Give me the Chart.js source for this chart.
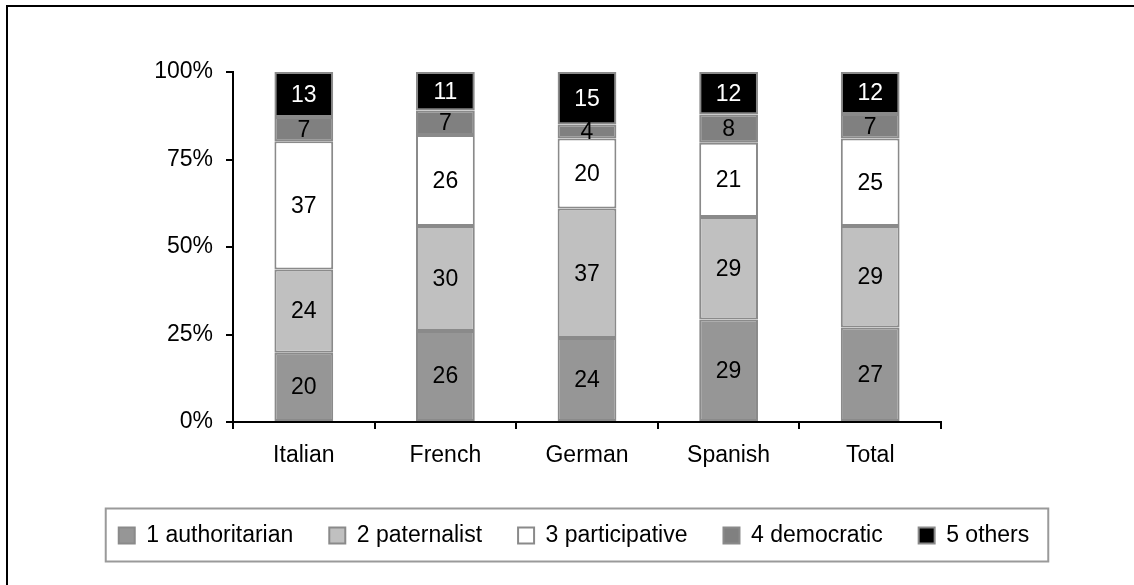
<!DOCTYPE html>
<html>
<head>
<meta charset="utf-8">
<script src="https://cdn.jsdelivr.net/npm/chart.js@4/dist/chart.umd.min.js"></script>
<style>
  html, body { margin: 0; padding: 0; background: #fff; }
  #wrap { width: 1134px; height: 585px; position: relative; }
</style>
</head>
<body>
<div id="wrap"><canvas id="styleChart" width="1134" height="585"></canvas></div>
<script>
const categories = ["Italian", "French", "German", "Spanish", "Total"];
const seriesNames = ["1 authoritarian", "2 paternalist", "3 participative", "4 democratic", "5 others"];
const authoritarian = [20, 26, 24, 29, 27];
const paternalist = [24, 30, 37, 29, 29];
const participative = [37, 26, 20, 21, 25];
const democratic = [7, 7, 4, 8, 7];
const others = [13, 11, 15, 12, 12];
const yTicks = [0, 25, 50, 75, 100];

const seriesValues = [authoritarian, paternalist, participative, democratic, others];
const fills = ["#969696", "#c0c0c0", "#ffffff", "#808080", "#000000"];
const labelColors = ["#000", "#000", "#000", "#000", "#fff"];
const FONT = "'Liberation Sans', Arial, sans-serif";
const FS = 23;

// 100% stacked: normalise each column by its own total
const totals = categories.map((c, i) => seriesValues.reduce((s, arr) => s + arr[i], 0));

const datasets = seriesNames.map((name, k) => ({
  label: name,
  data: seriesValues[k].map((v, i) => v / totals[i] * 100),
  raw: seriesValues[k],
  backgroundColor: fills[k],
  borderColor: "#8a8a8a",
  borderWidth: 2,
  borderSkipped: false,
  barPercentage: 0.415,
  categoryPercentage: 1.0
}));

// value labels in the middle of each segment
const valueLabels = {
  id: "valueLabels",
  afterDatasetsDraw(chart) {
    const ctx = chart.ctx;
    ctx.save();
    ctx.font = FS + "px " + FONT;
    ctx.textAlign = "center";
    ctx.textBaseline = "middle";
    chart.data.datasets.forEach((ds, k) => {
      const meta = chart.getDatasetMeta(k);
      meta.data.forEach((bar, i) => {
        ctx.fillStyle = labelColors[k];
        ctx.fillText(String(ds.raw[i]), bar.x, (bar.y + bar.base) / 2 + 1);
      });
    });
    ctx.restore();
  }
};

// white page, outer frame and the box round the legend
const frame = {
  id: "frame",
  beforeDraw(chart) {
    const ctx = chart.ctx;
    ctx.save();
    ctx.fillStyle = "#fff";
    ctx.fillRect(0, 0, chart.width, chart.height);
    ctx.strokeStyle = "#000";
    ctx.lineWidth = 2;
    ctx.beginPath();
    ctx.moveTo(7, chart.height + 2);
    ctx.lineTo(7, 6);
    ctx.lineTo(chart.width + 2, 6);
    ctx.stroke();
    ctx.restore();
  },
  afterDraw(chart) {
    const hb = chart.legend.legendHitBoxes;
    if (!hb || !hb.length) return;
    const last = hb[hb.length - 1];
    const cy = hb[0].top + hb[0].height / 2;
    const ctx = chart.ctx;
    ctx.save();
    ctx.strokeStyle = "#9a9a9a";
    ctx.lineWidth = 2;
    ctx.strokeRect(hb[0].left - 13, cy - 27, last.left + last.width + 19 - (hb[0].left - 13), 53);
    ctx.restore();
  }
};

new Chart(document.getElementById("styleChart").getContext("2d"), {
  type: "bar",
  data: { labels: categories, datasets: datasets },
  plugins: [frame, valueLabels],
  options: {
    responsive: false,
    animation: false,
    layout: { padding: { left: 20, right: 6, top: 72, bottom: 28 } },
    plugins: {
      tooltip: { enabled: false },
      legend: {
        position: "bottom",
        align: "center",
        labels: {
          color: "#000",
          font: { family: FONT, size: FS },
          boxWidth: 16,
          boxHeight: 16,
          padding: 36
        }
      }
    },
    scales: {
      x: {
        stacked: true,
        afterFit: s => { s.height = 66; },
        grid: { display: true, drawOnChartArea: false, drawTicks: true, tickLength: 7, color: "#000", lineWidth: 2, offset: true },
        border: { display: true, color: "#000", width: 2 },
        ticks: { color: "#000", font: { family: FONT, size: FS }, padding: 13, maxRotation: 0 }
      },
      y: {
        stacked: true,
        min: 0,
        max: 100,
        afterFit: s => { s.width = 213; },
        afterBuildTicks: s => { s.ticks = yTicks.map(v => ({ value: v })); },
        grid: { display: true, drawOnChartArea: false, drawTicks: true, tickLength: 7, color: "#000", lineWidth: 2 },
        border: { display: true, color: "#000", width: 2 },
        ticks: { color: "#000", font: { family: FONT, size: FS }, padding: 13, callback: v => v + "%" }
      },
      y2: {
        position: "right",
        display: true,
        afterFit: s => { s.width = 187; },
        grid: { display: false },
        border: { display: false },
        ticks: { display: false }
      }
    }
  }
});
</script>
</body>
</html>
